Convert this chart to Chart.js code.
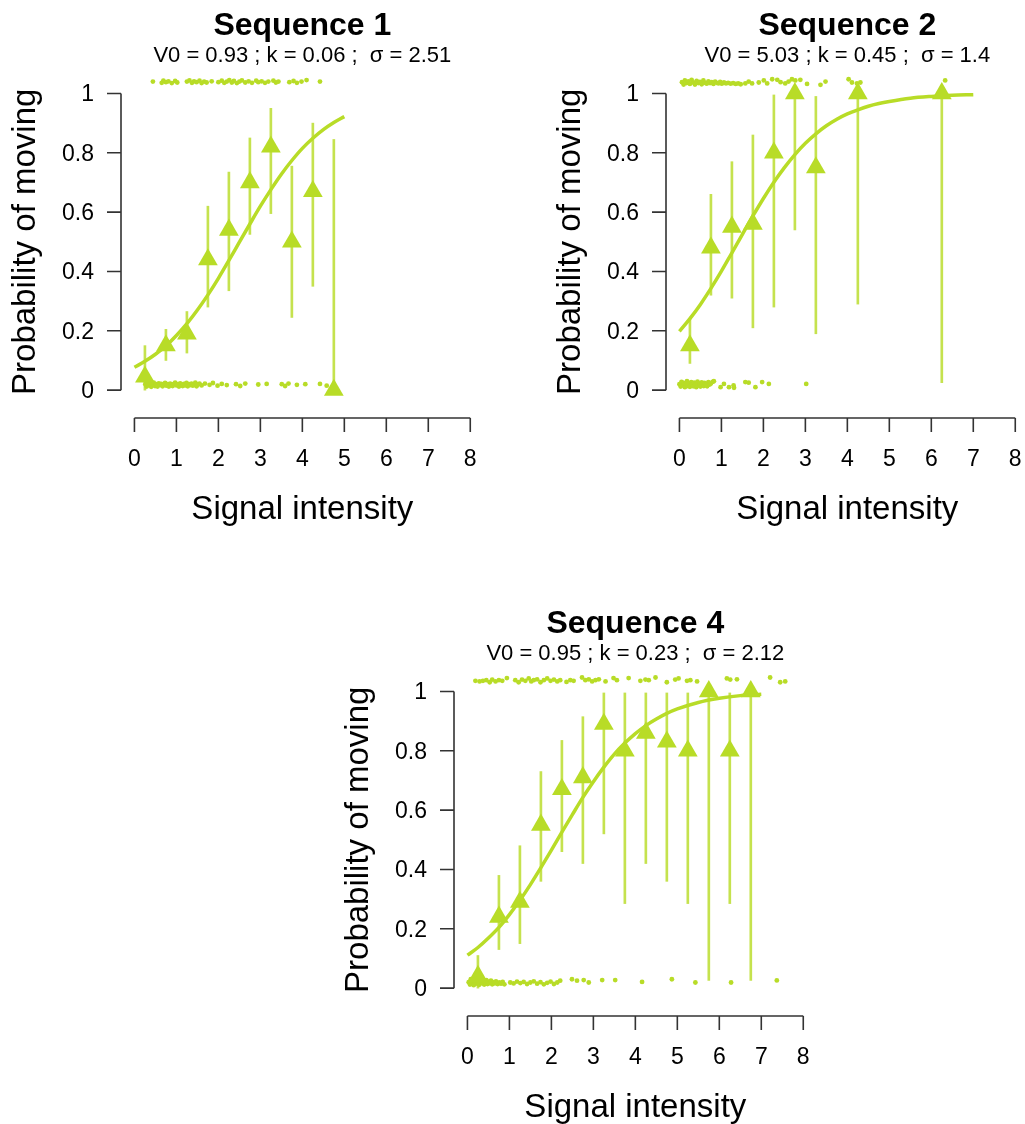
<!DOCTYPE html>
<html>
<head>
<meta charset="utf-8">
<script src="https://cdn.jsdelivr.net/npm/chart.js@4.4.1/dist/chart.umd.min.js"></script>
<style>
  html, body { margin: 0; padding: 0; background: #fff; overflow: hidden; width: 1025px; height: 1124px; }
  canvas { position: absolute; }
</style>
</head>
<body>
<canvas id="c1" width="512" height="540" style="left:0px;top:0px"></canvas>
<canvas id="c2" width="512" height="540" style="left:545px;top:0px"></canvas>
<canvas id="c3" width="512" height="540" style="left:333px;top:598px"></canvas>
<script>
const xTicks = [0, 1, 2, 3, 4, 5, 6, 7, 8];
const yTicks = [0, 0.2, 0.4, 0.6, 0.8, 1];
const yTickLabels = ['0', '0.2', '0.4', '0.6', '0.8', '1'];

// sequence 1
const seq1Bins = [0.25, 0.75, 1.25, 1.75, 2.25, 2.75, 3.25, 3.75, 4.25, 4.75];
const seq1Prop = [0.045, 0.15, 0.19, 0.44, 0.54, 0.70, 0.82, 0.50, 0.67, 0.0];
const seq1Lo = [0, 0.10, 0.125, 0.28, 0.335, 0.525, 0.595, 0.245, 0.35, 0];
const seq1Hi = [0.15, 0.205, 0.265, 0.62, 0.735, 0.85, 0.95, 0.755, 0.90, 0.845];
const seq1CurveX = [0, 0.25, 0.5, 0.75, 1, 1.25, 1.5, 1.75, 2, 2.25, 2.5, 2.75, 3, 3.25, 3.5, 3.75, 4, 4.25, 4.5, 4.75, 5];
const seq1CurveY = [0.077, 0.097, 0.121, 0.149, 0.184, 0.224, 0.270, 0.321, 0.377, 0.437, 0.499, 0.560, 0.620, 0.676, 0.728, 0.774, 0.815, 0.849, 0.878, 0.902, 0.922];
const seq1Top = [[0.44,1.04],[0.65,1.036],[0.69,1.043],[0.75,1.038],[0.81,1.041],[0.89,1.035],[0.97,1.042],[1.02,1.037],
  [1.25,1.04],[1.31,1.044],[1.37,1.036],[1.42,1.041],[1.48,1.038],[1.55,1.043],[1.60,1.035],[1.66,1.04],[1.72,1.037],
  [1.84,1.041],[2.00,1.038],[2.08,1.043],[2.14,1.036],[2.20,1.04],[2.26,1.045],[2.32,1.037],[2.37,1.042],[2.44,1.035],
  [2.50,1.04],[2.56,1.044],[2.64,1.037],[2.72,1.041],[2.80,1.036],[2.90,1.043],[2.95,1.038],[3.03,1.041],[3.11,1.036],
  [3.19,1.04],[3.31,1.043],[3.37,1.037],[3.43,1.04],[3.69,1.038],[3.79,1.042],[3.87,1.036],[3.98,1.04],[4.10,1.045],[4.42,1.04]];
const seq1Bottom = [[0.26,0.02],[0.29,0.012],[0.31,0.024],[0.34,0.016],[0.37,0.021],[0.40,0.011],[0.43,0.019],[0.46,0.025],
  [0.49,0.014],[0.52,0.02],[0.55,0.012],[0.58,0.023],[0.61,0.017],[0.64,0.021],[0.67,0.013],[0.70,0.019],[0.73,0.024],
  [0.76,0.015],[0.79,0.02],[0.82,0.012],[0.85,0.022],[0.88,0.017],[0.91,0.014],[0.94,0.021],[0.97,0.025],[1.00,0.016],
  [1.03,0.02],[1.06,0.012],[1.09,0.023],[1.12,0.018],[1.15,0.014],[1.18,0.021],[1.21,0.016],[1.24,0.024],[1.27,0.013],
  [1.30,0.02],[1.33,0.017],[1.36,0.022],[1.39,0.015],[1.42,0.02],[1.45,0.025],[1.48,0.013],[1.51,0.019],[1.55,0.022],
  [1.60,0.016],[1.68,0.022],[1.79,0.018],[1.87,0.024],[1.98,0.015],[2.08,0.021],[2.20,0.017],[2.42,0.02],[2.52,0.014],
  [2.64,0.022],[2.95,0.019],[3.15,0.021],[3.51,0.02],[3.59,0.014],[3.67,0.022],[3.87,0.018],[4.07,0.02],[4.42,0.021],[4.58,0.015]];

// sequence 2
const seq2Bins = [0.25, 0.75, 1.25, 1.75, 2.25, 2.75, 3.25, 4.25, 6.25];
const seq2Prop = [0.15, 0.48, 0.55, 0.56, 0.80, 1.0, 0.75, 1.0, 1.0];
const seq2Lo = [0.09, 0.32, 0.31, 0.21, 0.28, 0.54, 0.19, 0.29, 0.025];
const seq2Hi = [0.24, 0.66, 0.77, 0.86, 0.995, 1.0, 0.99, 1.0, 1.0];
const seq2CurveX = [0, 0.25, 0.5, 0.75, 1, 1.25, 1.5, 1.75, 2, 2.25, 2.5, 2.75, 3, 3.25, 3.5, 3.75, 4, 4.25, 4.5, 4.75, 5, 5.5, 6, 6.5, 7];
const seq2CurveY = [0.198, 0.241, 0.289, 0.343, 0.401, 0.463, 0.525, 0.587, 0.646, 0.701, 0.750, 0.794, 0.832, 0.864, 0.891, 0.913, 0.931, 0.945, 0.957, 0.966, 0.973, 0.984, 0.990, 0.994, 0.996];
const seq2Top = [[0.06,1.038],[0.10,1.03],[0.13,1.044],[0.17,1.035],[0.21,1.041],[0.25,1.032],[0.29,1.046],[0.33,1.037],
  [0.37,1.03],[0.41,1.042],[0.45,1.035],[0.49,1.039],[0.53,1.031],[0.57,1.044],[0.61,1.036],[0.65,1.033],[0.69,1.041],
  [0.73,1.035],[0.77,1.038],[0.81,1.032],[0.85,1.04],[0.89,1.036],[0.93,1.034],[0.97,1.039],[1.01,1.033],[1.06,1.037],
  [1.11,1.034],[1.16,1.036],[1.22,1.033],[1.28,1.035],[1.34,1.032],[1.40,1.034],[1.46,1.031],
  [1.57,1.034],[1.65,1.04],[1.73,1.034],[1.89,1.037],[2.01,1.044],[2.09,1.034],[2.21,1.048],[2.33,1.046],[2.41,1.038],
  [2.52,1.034],[2.60,1.04],[2.68,1.048],[2.76,1.044],[2.88,1.046],[3.04,1.032],[3.36,1.029],[3.48,1.04],[4.03,1.048],
  [4.11,1.037],[4.23,1.034],[4.31,1.037],[6.33,1.044]];
const seq2Bottom = [[0.0,0.02],[0.03,0.012],[0.05,0.028],[0.08,0.017],[0.10,0.024],[0.13,0.01],[0.15,0.021],[0.18,0.03],
  [0.20,0.014],[0.23,0.022],[0.25,0.011],[0.28,0.027],[0.30,0.018],[0.33,0.013],[0.35,0.025],[0.38,0.019],[0.40,0.01],
  [0.43,0.029],[0.45,0.016],[0.48,0.022],[0.50,0.012],[0.53,0.026],[0.55,0.018],[0.58,0.014],[0.60,0.024],[0.63,0.02],
  [0.66,0.013],[0.69,0.027],[0.72,0.019],[0.75,0.022],[0.79,0.028],[0.82,0.03],
  [0.98,0.01],[1.06,0.021],[1.18,0.01],[1.29,0.016],[1.30,0.008],[1.57,0.027],[1.65,0.025],[1.81,0.01],[1.97,0.027],
  [2.13,0.021],[3.02,0.021]];

// sequence 4
const seq4Bins = [0.25, 0.75, 1.25, 1.75, 2.25, 2.75, 3.25, 3.75, 4.25, 4.75, 5.25, 5.75, 6.25, 6.75];
const seq4Prop = [0.04, 0.24, 0.29, 0.55, 0.67, 0.71, 0.89, 0.80, 0.86, 0.83, 0.80, 1.0, 0.80, 1.0];
const seq4Lo = [0, 0.13, 0.15, 0.36, 0.46, 0.42, 0.52, 0.285, 0.42, 0.36, 0.285, 0.026, 0.285, 0.026];
const seq4Hi = [0.11, 0.38, 0.48, 0.73, 0.835, 0.915, 0.995, 0.995, 0.995, 0.995, 0.995, 1.0, 0.995, 1.0];
const seq4CurveX = [0, 0.25, 0.5, 0.75, 1, 1.25, 1.5, 1.75, 2, 2.25, 2.5, 2.75, 3, 3.25, 3.5, 3.75, 4, 4.25, 4.5, 4.75, 5, 5.5, 6, 6.5, 7];
const seq4CurveY = [0.111, 0.137, 0.169, 0.205, 0.248, 0.296, 0.349, 0.406, 0.465, 0.526, 0.585, 0.643, 0.696, 0.745, 0.789, 0.826, 0.858, 0.885, 0.907, 0.926, 0.941, 0.963, 0.977, 0.986, 0.991];
const seq4Top = [[0.19,1.036],[0.29,1.034],[0.37,1.036],[0.45,1.038],[0.53,1.031],[0.59,1.040],[0.67,1.034],[0.75,1.038],
  [0.83,1.036],[0.94,1.045],[1.14,1.038],[1.22,1.031],[1.30,1.040],[1.38,1.036],[1.46,1.044],[1.52,1.034],[1.58,1.038],
  [1.66,1.041],[1.74,1.031],[1.82,1.038],[1.90,1.044],[1.98,1.036],[2.06,1.040],[2.14,1.034],[2.21,1.038],[2.36,1.032],
  [2.45,1.038],[2.53,1.036],[2.73,1.047],[2.81,1.038],[2.89,1.041],[2.97,1.034],[3.05,1.038],[3.13,1.041],[3.29,1.034],
  [3.48,1.045],[3.56,1.038],[3.84,1.045],[4.12,1.036],[4.24,1.040],[4.32,1.038],[4.48,1.047],[4.75,1.031],[4.95,1.040],
  [5.03,1.044],[5.23,1.036],[5.31,1.038],[5.47,1.034],[6.18,1.044],[6.26,1.040],[6.42,1.041],[7.21,1.047],[7.45,1.031],[7.57,1.034]];
const seq4Bottom = [[0.03,0.02],[0.06,0.012],[0.08,0.03],[0.10,0.017],[0.13,0.025],[0.15,0.01],[0.18,0.022],[0.20,0.033],
  [0.23,0.015],[0.25,0.028],[0.28,0.011],[0.30,0.021],[0.33,0.031],[0.35,0.016],[0.38,0.024],[0.40,0.012],[0.43,0.019],
  [0.45,0.027],[0.48,0.014],[0.50,0.022],[0.53,0.017],[0.56,0.025],[0.59,0.013],[0.62,0.02],[0.65,0.016],[0.68,0.023],
  [0.72,0.014],[0.76,0.019],[0.80,0.015],[0.84,0.021],[0.88,0.013],
  [1.02,0.019],[1.10,0.016],[1.18,0.022],[1.26,0.017],[1.34,0.021],[1.42,0.014],[1.50,0.019],[1.58,0.023],[1.66,0.015],
  [1.74,0.02],[1.82,0.013],[1.90,0.018],[1.98,0.022],[2.06,0.014],[2.14,0.019],[2.21,0.025],
  [2.49,0.03],[2.61,0.025],[2.77,0.027],[2.89,0.019],[3.21,0.027],[3.52,0.027],[4.16,0.021],[4.87,0.03],[5.43,0.019],
  [6.28,0.019],[7.37,0.026]];

const GREEN = '#b8dc27';
const BAR_GREEN = 'rgba(184,220,39,0.82)';
const AXIS = '#333';
const FONT = '"Liberation Sans", Arial, Helvetica, sans-serif';

// R-like axes and labels, placed with the chart's own scales
const rAxes = {
  id: 'rAxes',
  afterDraw(chart, args, o) {
    const { ctx, chartArea: a, scales: { x, y } } = chart;
    const x0 = x.getPixelForValue(xTicks[0]);
    const x1 = x.getPixelForValue(xTicks[xTicks.length - 1]);
    const y0 = y.getPixelForValue(yTicks[0]);
    const y1 = y.getPixelForValue(yTicks[yTicks.length - 1]);
    const axY = a.bottom + 16;
    const cx = (a.left + a.right) / 2;
    ctx.save();
    ctx.strokeStyle = AXIS;
    ctx.lineWidth = 1.6;
    ctx.beginPath();
    ctx.moveTo(a.left, y0); ctx.lineTo(a.left, y1);
    yTicks.forEach(v => {
      const p = y.getPixelForValue(v);
      ctx.moveTo(a.left, p); ctx.lineTo(a.left - 14, p);
    });
    ctx.moveTo(x0, axY); ctx.lineTo(x1, axY);
    xTicks.forEach(v => {
      const p = x.getPixelForValue(v);
      ctx.moveTo(p, axY); ctx.lineTo(p, axY + 14);
    });
    ctx.stroke();

    ctx.fillStyle = '#000';
    ctx.font = '23px ' + FONT;
    ctx.textBaseline = 'alphabetic';
    ctx.textAlign = 'right';
    yTicks.forEach((v, i) => ctx.fillText(yTickLabels[i], a.left - 27, y.getPixelForValue(v) + 8));
    ctx.textAlign = 'center';
    xTicks.forEach(v => ctx.fillText(String(v), x.getPixelForValue(v), axY + 48));

    ctx.font = '33px ' + FONT;
    ctx.fillText('Signal intensity', cx, axY + 101);
    ctx.save();
    ctx.translate(35, (y0 + y1) / 2);
    ctx.rotate(-Math.PI / 2);
    ctx.fillText('Probability of moving', 0, 0);
    ctx.restore();

    ctx.font = 'bold 32px ' + FONT;
    ctx.fillText(o.title, cx, 35);
    ctx.font = '22px ' + FONT;
    ctx.fillText(o.subtitle, cx, 62);
    ctx.restore();
  }
};

function pts(arr) {
  return arr.map(p => ({ x: p[0], y: p[1] }));
}

function makePanel(id, title, subtitle, bins, prop, lo, hi, cx, cy, top, bottom) {
  new Chart(document.getElementById(id), {
    type: 'scatter',
    data: {
      datasets: [
        {
          type: 'scatter',
          data: pts(top.concat(bottom)),
          pointRadius: 2.4,
          pointBackgroundColor: GREEN,
          pointBorderWidth: 0,
          clip: false,
          order: 4
        },
        {
          type: 'line',
          data: cx.map((v, i) => ({ x: v, y: cy[i] })),
          borderColor: GREEN,
          borderWidth: 3.5,
          pointRadius: 0,
          cubicInterpolationMode: 'monotone',
          fill: false,
          clip: false,
          order: 3
        },
        {
          type: 'bar',
          data: bins.map((v, i) => ({ x: v, y: [lo[i], hi[i]] })),
          backgroundColor: BAR_GREEN,
          borderWidth: 0,
          barThickness: 2,
          grouped: false,
          clip: false,
          order: 2
        },
        {
          type: 'scatter',
          data: bins.map((v, i) => ({ x: v, y: prop[i] })),
          pointStyle: 'triangle',
          pointRadius: 11.4,
          pointBackgroundColor: GREEN,
          pointBorderWidth: 0,
          clip: false,
          order: 1
        }
      ]
    },
    options: {
      responsive: false,
      animation: false,
      events: [],
      layout: { autoPadding: false, padding: { left: 121, right: 28.3, top: 81.6, bottom: 138 } },
      scales: {
        x: { type: 'linear', min: -0.32, max: 8.32, offset: false, display: false },
        y: { type: 'linear', min: -0.04, max: 1.04, display: false }
      },
      plugins: {
        legend: { display: false },
        tooltip: { enabled: false },
        rAxes: { title, subtitle }
      }
    },
    plugins: [rAxes]
  });
}

makePanel('c1', 'Sequence 1', 'V0 = 0.93 ; k = 0.06 ;  \u03c3 = 2.51',
  seq1Bins, seq1Prop, seq1Lo, seq1Hi, seq1CurveX, seq1CurveY, seq1Top, seq1Bottom);
makePanel('c2', 'Sequence 2', 'V0 = 5.03 ; k = 0.45 ;  \u03c3 = 1.4',
  seq2Bins, seq2Prop, seq2Lo, seq2Hi, seq2CurveX, seq2CurveY, seq2Top, seq2Bottom);
makePanel('c3', 'Sequence 4', 'V0 = 0.95 ; k = 0.23 ;  \u03c3 = 2.12',
  seq4Bins, seq4Prop, seq4Lo, seq4Hi, seq4CurveX, seq4CurveY, seq4Top, seq4Bottom);
</script>
</body>
</html>
